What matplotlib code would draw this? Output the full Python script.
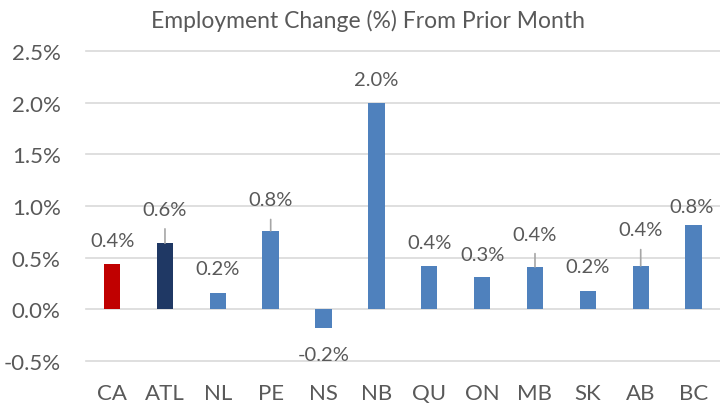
import matplotlib
matplotlib.use("Agg")
import matplotlib.pyplot as plt
from matplotlib.ticker import FuncFormatter

regions = ["CA", "ATL", "NL", "PE", "NS", "NB", "QU", "ON", "MB", "SK", "AB", "BC"]
values = [0.44, 0.64, 0.16, 0.76, -0.18, 2.00, 0.42, 0.31, 0.41, 0.18, 0.42, 0.82]
labels = ["0.4%", "0.6%", "0.2%", "0.8%", "-0.2%", "2.0%", "0.4%", "0.3%", "0.4%", "0.2%", "0.4%", "0.8%"]
yticks = [-0.5, 0.0, 0.5, 1.0, 1.5, 2.0, 2.5]

colors = ["#C00000", "#1F3864"] + ["#4F81BD"] * 10
# label offsets (pixels) and whether a leader line is drawn
offsets = [23, 34, 24, 31, -27, 23, 23, 23, 33, 24, 36, 18]
leaders = [False, True, False, True, False, False, False, False, True, False, True, False]
xshift = [0, 0, 0, 0, 0, 0, 0, 0, 0, 0, 0, -2]

plt.rcParams['font.family'] = ['Lato', 'DejaVu Sans']
txt = "#595959"

fig = plt.figure(figsize=(7.2, 4.1), dpi=100)
ax = fig.add_axes([0.119, 0.117, 0.881, 0.756])

x = list(range(len(regions)))
ax.bar(x, values, width=0.31, color=colors, zorder=3)

ax.set_xlim(-0.5, len(regions) - 0.5)
ax.set_ylim(-0.5, 2.5)
ax.set_yticks(yticks)
ax.yaxis.set_major_formatter(FuncFormatter(lambda v, p: f"{v:.1f}%"))
ax.set_xticks(x)
ax.set_xticklabels(regions)
ax.grid(axis='y', color="#D9D9D9", linewidth=1.2, zorder=0)
for gl in ax.get_ygridlines():
    gl.set_clip_on(False)
for s in ax.spines.values():
    s.set_visible(False)
ax.tick_params(axis='both', length=0, colors=txt, labelsize=16)
ax.tick_params(axis='y', pad=18)
ax.tick_params(axis='x', pad=16)

for i, (v, lab) in enumerate(zip(values, labels)):
    if leaders[i]:
        ax.annotate(lab, xy=(i, v), xytext=(xshift[i], offsets[i]), textcoords='offset pixels',
                    ha='center', va='center', fontsize=14.5, color=txt,
                    arrowprops=dict(arrowstyle='-', color="#A6A6A6", lw=1.2, shrinkA=6, shrinkB=0))
    else:
        ax.annotate(lab, xy=(i, v), xytext=(xshift[i], offsets[i]), textcoords='offset pixels',
                    ha='center', va='center', fontsize=14.5, color=txt, annotation_clip=False)

fig.text(0.511, 0.948, "Employment Change (%) From Prior Month", ha='center', va='center',
         fontsize=16.5, color=txt)

fig.savefig("out.png", dpi=100)
